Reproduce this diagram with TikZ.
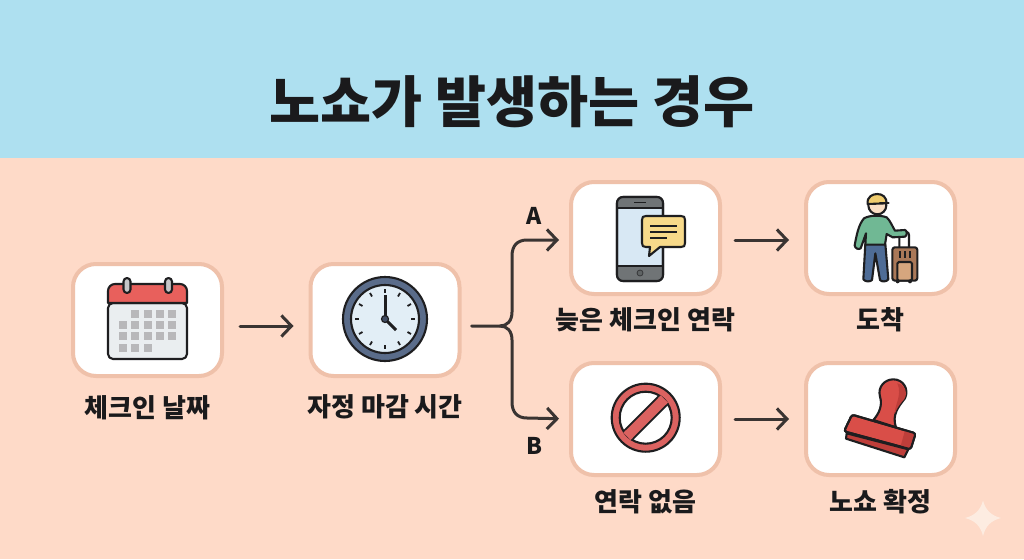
\documentclass[tikz,border=0pt]{standalone}
\usepackage{fontspec}
\setmainfont{Noto Sans CJK KR}
\usetikzlibrary{arrows.meta,calc}
\definecolor{skyb}{RGB}{174,224,240}
\definecolor{peach}{RGB}{254,218,200}
\definecolor{edgec}{RGB}{239,193,170}
\definecolor{ink}{RGB}{26,26,28}
\definecolor{arrowc}{RGB}{58,52,50}
\definecolor{iconl}{RGB}{30,30,32}
\definecolor{redc}{RGB}{232,96,92}
\definecolor{stampr}{RGB}{217,78,72}
\definecolor{stampd}{RGB}{190,62,58}
\definecolor{noc}{RGB}{219,98,96}
\definecolor{slatec}{RGB}{90,108,138}
\definecolor{facec}{RGB}{226,238,246}
\definecolor{calb}{RGB}{234,238,240}
\definecolor{cell}{RGB}{184,184,186}
\definecolor{screenc}{RGB}{216,232,244}
\definecolor{bezel}{RGB}{112,116,118}
\definecolor{bubc}{RGB}{248,218,138}
\definecolor{capc}{RGB}{240,204,110}
\definecolor{skinc}{RGB}{250,222,196}
\definecolor{shirtc}{RGB}{112,184,148}
\definecolor{pantc}{RGB}{78,108,150}
\definecolor{casec}{RGB}{170,120,88}
\definecolor{casel}{RGB}{214,166,126}
\definecolor{sparkc}{RGB}{253,236,225}
\tikzset{
  x=1pt,y=-1pt,
  card/.style={draw=edgec,fill=white,line width=4pt,rounded corners=23pt,minimum width=149pt,minimum height=112pt,outer sep=0pt,inner sep=0pt},
  lab/.style={font=\fontsize{26}{30}\selectfont\bfseries,text=ink,inner sep=0pt},
  link/.style={draw=arrowc,line width=3pt,line cap=round,line join=round,-{Straight Barb[length=10pt,width=21pt,line width=3pt]}},
  ic/.style={draw=iconl,line width=2.1pt,line join=round,line cap=round},
  zoomed/.style={x=0.3333pt,y=-0.3333pt},
}
\begin{document}
\begin{tikzpicture}
\useasboundingbox (0,0) rectangle (1024,559);
\fill[peach] (0,0) rectangle (1024,559);
\fill[skyb] (0,0) rectangle (1024,158);
\node[font=\fontsize{55.5}{60}\selectfont\bfseries,text=ink,inner sep=0pt] (title) at (512,102) {노쇼가 발생하는 경우};
\node[card] (c1) at (147.5,320) {};
\node[card] (c2) at (385,320) {};
\node[card] (c3) at (645.5,238) {};
\node[card] (c4) at (880.5,238) {};
\node[card] (c5) at (645.5,419) {};
\node[card] (c6) at (880.5,419) {};
\node[lab] (l1) at (147.5,408) {체크인 날짜};
\node[lab] (l2) at (385,407) {자정 마감 시간};
\node[lab] (l3) at (645.5,320) {늦은 체크인 연락};
\node[lab] (l4) at (880.5,320) {도착};
\node[lab] (l5) at (645.5,502) {연락 없음};
\node[lab] (l6) at (880.5,502) {노쇼 확정};
\node[font=\fontsize{23}{26}\selectfont\bfseries,text=ink,inner sep=0pt] (la) at (534,216) {A};
\node[font=\fontsize{23}{26}\selectfont\bfseries,text=ink,inner sep=0pt] (lb) at (534,446) {B};
% connectors
\draw[link,shorten <=18pt,shorten >=17pt] ([yshift=-6pt]c1.east) -- ([yshift=-6pt]c2.west);
\draw[link,shorten <=15pt,shorten >=17pt] ([yshift=-2pt]c3.east) -- ([yshift=-2pt]c4.west);
\draw[link,shorten <=15pt,shorten >=17pt] (c5.east) -- (c6.west);
\coordinate (fork) at (500,326);
\draw[link,shorten <=12pt,shorten >=12pt] ([yshift=-6pt]c2.east) -- (fork) .. controls (507,326) and (512,321) .. (512,312) -- (512,256) .. controls (512,246) and (517,240) .. (527,240) -- ([yshift=-2pt]c3.west);
\draw[link,shorten >=12pt] (fork) .. controls (507,326) and (512,331) .. (512,340) -- (512,402) .. controls (512,412) and (517,418) .. (527,418) -- (c5.west);
% calendar
\begin{scope}
\draw[ic,fill=calb,rounded corners=5pt] (108,303) rectangle (187,359);
\draw[ic,fill=redc] (108,303) -- (108,291) arc[start angle=180,end angle=90,radius=7pt] -- (180,284) arc[start angle=90,end angle=0,radius=7pt] -- (187,303) -- cycle;
\foreach \cx in {127,168.5}{\draw[ic,fill=cell!80!white,rounded corners=3.5pt] (\cx-3.5,278) rectangle (\cx+3.5,293);}
\foreach \cx in {135,148,160,172}{\fill[cell] (\cx-4,310) rectangle (\cx+4,318);}
\foreach \cx in {123,135,148,160,172}{\fill[cell] (\cx-4,321) rectangle (\cx+4,329); \fill[cell] (\cx-4,332) rectangle (\cx+4,340);}
\foreach \cx in {123,135,148}{\fill[cell] (\cx-4,344) rectangle (\cx+4,352);}
\end{scope}
% clock
\begin{scope}[shift={(385,319)}]
\draw[ic,fill=slatec] (0,0) circle[radius=42pt];
\draw[ic,fill=facec] (0,0) circle[radius=34pt];
\foreach \a in {0,30,...,330}{\draw[line width=1.8pt,draw=iconl] (\a:26pt) -- (\a:30pt);}
\draw[line width=3pt,draw=iconl] (0,0) -- (0,-24);
\draw[line width=3pt,draw=iconl] (0,0) -- (11,11);
\fill[slatec!70!black,draw=iconl,line width=1.2pt] (0,0) circle[radius=3.5pt];
\end{scope}
% phone
\draw[ic,fill=screenc,rounded corners=6pt] (617,197) rectangle (663,281);
\begin{scope}
\clip[rounded corners=6pt] (617,197) rectangle (663,281);
\fill[bezel] (617,197) rectangle (663,208);
\fill[bezel] (617,266) rectangle (663,281);
\draw[ic] (617,208) -- (663,208) (617,266) -- (663,266);
\end{scope}
\draw[ic,rounded corners=6pt] (617,197) rectangle (663,281);
\draw[draw=iconl,line width=1.5pt] (634,202.5) -- (646,202.5);
\draw[draw=iconl!70!bezel,fill=bezel!85!black,line width=.8pt] (640,273) circle[radius=3pt];
\draw[ic,fill=bubc] (646,216) -- (681,216) .. controls (684,216) and (685,217) .. (685,220) -- (685,243) .. controls (685,246) and (684,247) .. (681,247) -- (660,247) -- (649,256) -- (650,247) -- (646,247) .. controls (643,247) and (642,246) .. (642,243) -- (642,220) .. controls (642,217) and (643,216) .. (646,216) -- cycle;
\draw[draw=iconl,line width=1.8pt] (650,226) -- (677,226) (650,232) -- (677,232) (650,238) -- (667,238);
% traveller
\begin{scope}[shift={(790,170)},zoomed]
\draw[ic] (328,232) -- (328,195) -- (350,190) (357,232) -- (357,195) .. controls (357,190) and (354,186) .. (350,186);
\draw[ic,fill=casec,rounded corners=2.5pt] (307,232) rectangle (382,332);
\draw[ic,fill=casel,rounded corners=1.5pt] (322,276) rectangle (366,332);
\draw[draw=iconl,line width=1.6pt] (330,244) -- (330,264) (345,244) -- (345,264) (360,244) -- (360,264);
\fill[iconl] (323,334) circle[radius=6] (360,334) circle[radius=6];
\draw[ic,fill=pantc] (226,222) -- (286,222) -- (295,328) .. controls (290,336) and (275,336) .. (270,330) -- (256,250) -- (246,330) .. controls (240,336) and (226,336) .. (220,328) -- cycle;
\draw[ic,fill=shirtc] (222,145) .. controls (240,135) and (270,135) .. (290,142) .. controls (300,150) and (310,175) .. (315,182) -- (345,180) .. controls (352,182) and (352,198) .. (345,200) -- (308,202) -- (290,192) -- (285,224) -- (226,224) -- (228,190) -- (212,235) .. controls (205,240) and (195,235) .. (194,226) .. controls (200,195) and (205,165) .. (222,145) -- cycle;
\draw[ic,fill=skinc] (262,106) circle[radius=27];
\draw[ic,fill=capc] (233,102) .. controls (230,80) and (248,72) .. (262,72) .. controls (278,72) and (290,82) .. (290,100) -- cycle;
\draw[ic] (270,98) -- (296,98);
\end{scope}
% no sign
\begin{scope}[shift={(645.7,417.7)}]
\fill[noc] (0,0) circle[radius=34pt];
\begin{scope}
\clip (0,0) circle[radius=26pt];
\fill[white] (-30,-30) rectangle (30,30);
\draw[draw=iconl,fill=noc,line width=1.8pt,rotate=45] (-30,-6) rectangle (30,6);
\end{scope}
\draw[ic] (0,0) circle[radius=26pt];
\fill[noc,rotate=45] (-26.5,-5.1) rectangle (-23,5.1);
\fill[noc,rotate=45] (23,-5.1) rectangle (26.5,5.1);
\draw[ic] (0,0) circle[radius=34pt];
\end{scope}
% stamp
\begin{scope}[shift={(790,350)},zoomed]
\draw[ic,fill=stampr] (250,210) .. controls (268,190) and (278,165) .. (270,140) .. controls (262,110) and (285,88) .. (310,88) .. controls (340,88) and (358,118) .. (345,145) .. controls (325,170) and (305,195) .. (318,232) -- cycle;
\fill[stampd] (322,100) .. controls (345,105) and (355,125) .. (343,147) .. controls (330,162) and (320,175) .. (314,192) .. controls (312,170) and (338,135) .. (322,100) -- cycle;
\draw[ic,fill=stampd] (170,250) -- (168,266) -- (343,322) -- (355,298) -- cycle;
\draw[ic,fill=stampr,rounded corners=2.5pt] (186,194) -- (377,250) -- (362,298) -- (162,244) -- cycle;
\fill[stampd] (345,241) -- (374,250) -- (360,295) -- (332,288) -- cycle;
\draw[ic,rounded corners=2.5pt] (186,194) -- (377,250) -- (362,298) -- (162,244) -- cycle;
\end{scope}
% sparkle
\fill[sparkc] (983,500.5) .. controls (985.5,510) and (991,515.5) .. (1001,518) .. controls (991,520.5) and (985.5,526) .. (983,536) .. controls (980.5,526) and (975,520.5) .. (965,518) .. controls (975,515.5) and (980.5,510) .. (983,500.5) -- cycle;
\end{tikzpicture}
\end{document}
